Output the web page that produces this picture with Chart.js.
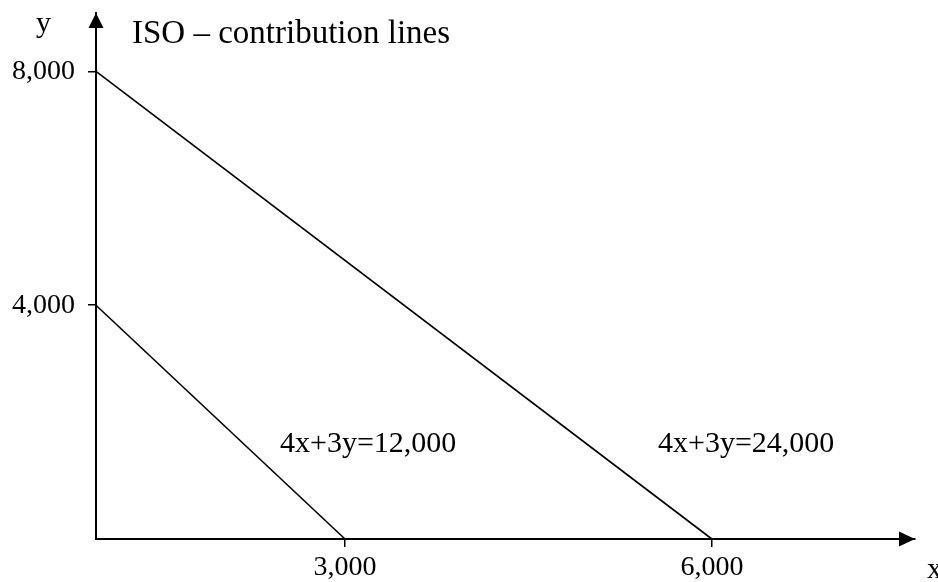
<!DOCTYPE html>
<html>
<head>
<meta charset="utf-8">
<script src="https://cdn.jsdelivr.net/npm/chart.js@4/dist/chart.umd.min.js"></script>
<style>
  html, body { margin: 0; padding: 0; background: #fff; }
  #wrap { width: 938px; height: 582px; }
</style>
</head>
<body>
<div id="wrap"><canvas id="c" width="938" height="582"></canvas></div>
<script>
// ---- data ----
const chartTitle = 'ISO – contribution lines';
const lineLabels = ['4x+3y=12,000', '4x+3y=24,000'];
const line1X = [0, 3000];
const line1Y = [4000, 0];
const line2X = [0, 6000];
const line2Y = [8000, 0];
const xTicks = [3000, 6000];
const yTicks = [4000, 8000];
const xAxisName = 'x';
const yAxisName = 'y';

// ---- a not-to-scale (piecewise linear) axis, as in the sketch ----
const xAnchors = [[0, 0], [3000, 0.304], [6000, 0.752], [7700, 1]];
class SketchScale extends Chart.LinearScale {
  getPixelForValue(value) {
    if (value === null || value === undefined) return NaN;
    const a = xAnchors;
    let i = 1;
    while (i < a.length - 1 && value > a[i][0]) i++;
    const [v0, f0] = a[i - 1], [v1, f1] = a[i];
    const dec = f0 + (value - v0) / (v1 - v0) * (f1 - f0);
    return this.getPixelForDecimal(dec);
  }
  getValueForPixel(pixel) {
    const dec = this.getDecimalForPixel(pixel);
    const a = xAnchors;
    let i = 1;
    while (i < a.length - 1 && dec > a[i][1]) i++;
    const [v0, f0] = a[i - 1], [v1, f1] = a[i];
    return v0 + (dec - f0) / (f1 - f0) * (v1 - v0);
  }
}
SketchScale.id = 'sketch';
SketchScale.defaults = {};
Chart.register(SketchScale);

const serif = '"Liberation Serif", "DejaVu Serif", serif';

const toPoints = (xs, ys) => xs.map((x, i) => ({ x: x, y: ys[i] }));

const decor = {
  id: 'decor',
  afterDraw(chart) {
    const ctx = chart.ctx;
    const a = chart.chartArea;
    ctx.save();
    ctx.fillStyle = '#000';
    // arrow heads
    ctx.beginPath();
    ctx.moveTo(a.left, a.top);
    ctx.lineTo(a.left - 7.5, a.top + 15);
    ctx.lineTo(a.left + 7.5, a.top + 15);
    ctx.closePath();
    ctx.fill();
    ctx.beginPath();
    ctx.moveTo(a.right, a.bottom);
    ctx.lineTo(a.right - 16, a.bottom - 7.5);
    ctx.lineTo(a.right - 16, a.bottom + 7.5);
    ctx.closePath();
    ctx.fill();
    // texts
    ctx.textBaseline = 'alphabetic';
    ctx.textAlign = 'left';
    ctx.font = '30px ' + serif;
    ctx.fillText(yAxisName, a.left - 60, a.top + 19);
    ctx.fillText(xAxisName, a.right + 12, a.bottom + 39);
    ctx.font = '33px ' + serif;
    ctx.fillText(chartTitle, a.left + 36, a.top + 30);
    ctx.font = '30px ' + serif;
    ctx.fillText(lineLabels[0], a.left + 184, a.bottom - 87);
    ctx.fillText(lineLabels[1], a.left + 562, a.bottom - 87);
    ctx.restore();
  }
};

new Chart(document.getElementById('c'), {
  type: 'line',
  data: {
    datasets: [
      { label: lineLabels[0], data: toPoints(line1X, line1Y) },
      { label: lineLabels[1], data: toPoints(line2X, line2Y) }
    ]
  },
  options: {
    responsive: false,
    animation: false,
    events: [],
    clip: false,
    layout: { padding: { left: 0, top: 13, right: 23, bottom: 0 } },
    elements: {
      line: { borderColor: '#000', borderWidth: 1.6, tension: 0, fill: false },
      point: { radius: 0 }
    },
    plugins: { legend: { display: false }, tooltip: { enabled: false }, title: { display: false } },
    scales: {
      x: {
        type: 'sketch',
        min: 0,
        max: 7700,
        afterBuildTicks: s => { s.ticks = xTicks.map(v => ({ value: v })); },
        afterFit: s => { s.height = 43; s.paddingLeft = 0; s.paddingRight = 0; },
        grid: { display: true, drawOnChartArea: false, drawTicks: true, tickLength: 8, color: '#000', lineWidth: 1.5 },
        border: { display: true, color: '#000', width: 2 },
        ticks: {
          color: '#000',
          padding: 4,
          maxRotation: 0,
          autoSkip: false,
          font: { family: serif, size: 28 },
          callback: v => v.toLocaleString('en-US')
        }
      },
      y: {
        type: 'linear',
        min: 0,
        max: 9000,
        afterBuildTicks: s => { s.ticks = yTicks.map(v => ({ value: v })); },
        afterFit: s => { s.width = 96; s.paddingTop = 0; s.paddingBottom = 0; },
        grid: { display: true, drawOnChartArea: false, drawTicks: true, tickLength: 8, color: '#000', lineWidth: 1.5 },
        border: { display: true, color: '#000', width: 2 },
        ticks: {
          color: '#000',
          padding: 13,
          autoSkip: false,
          font: { family: serif, size: 28 },
          callback: v => v.toLocaleString('en-US')
        }
      }
    }
  },
  plugins: [decor]
});
</script>
</body>
</html>
